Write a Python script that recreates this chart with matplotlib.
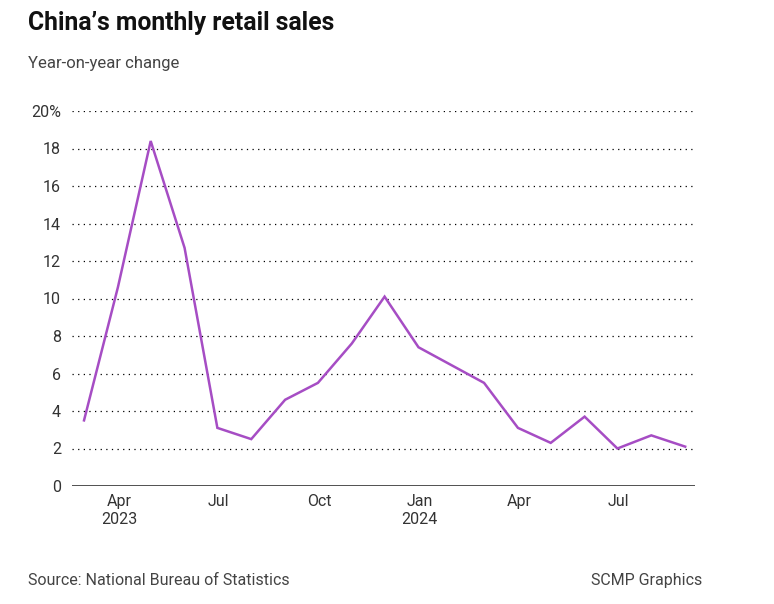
import matplotlib
matplotlib.use("Agg")
import matplotlib.pyplot as plt
import pandas as pd

plt.rcParams['font.family'] = ['Roboto', 'DejaVu Sans']

dates = pd.to_datetime([
    "2023-02-28", "2023-03-31", "2023-04-30", "2023-05-31", "2023-06-30",
    "2023-07-31", "2023-08-31", "2023-09-30", "2023-10-31", "2023-11-30",
    "2023-12-31", "2024-02-29", "2024-03-31", "2024-04-30", "2024-05-31",
    "2024-06-30", "2024-07-31", "2024-08-31",
])
values = [3.5, 10.6, 18.4, 12.7, 3.1, 2.5, 4.6, 5.5, 7.6, 10.1,
          7.4, 5.5, 3.1, 2.3, 3.7, 2.0, 2.7, 2.1]

tick_dates = pd.to_datetime(["2023-04-01", "2023-07-01", "2023-10-01",
                             "2024-01-01", "2024-04-01", "2024-07-01"])
tick_labels = ["Apr\n2023", "Jul", "Oct", "Jan\n2024", "Apr", "Jul"]
y_ticks = [0, 2, 4, 6, 8, 10, 12, 14, 16, 18, 20]
y_labels = ["0", "2", "4", "6", "8", "10", "12", "14", "16", "18", "20%"]

fig = plt.figure(figsize=(7.74, 6.04), dpi=100)
ax = fig.add_axes([72/774, (604-486)/604, (695-72)/774, 375/604])

ax.plot(dates, values, color="#A64DC4", linewidth=1.8, solid_joinstyle="miter", zorder=3)

ax.set_xlim(pd.Timestamp("2023-02-17"), pd.Timestamp("2024-09-09"))
ax.set_ylim(0, 20)
ax.set_yticks(y_ticks)
ax.set_yticklabels(y_labels)
ax.set_xticks(tick_dates)
ax.set_xticklabels(tick_labels)

for y in y_ticks[1:]:
    ax.axhline(y, color="black", linewidth=0.9, linestyle=(0, (1, 3.5)), zorder=1)
ax.axhline(0, color="#333333", linewidth=1.2, zorder=2)

for s in ax.spines.values():
    s.set_visible(False)
ax.tick_params(axis="both", length=0, labelsize=11.5, colors="#333333")
ax.tick_params(axis="y", pad=8)
ax.tick_params(axis="x", pad=6)
for lbl in ax.get_xticklabels():
    lbl.set_linespacing(1.25)

fig.text(28/774, 1 - 30/604, "China\u2019s monthly retail sales", fontsize=17.8,
         fontweight="bold", color="#111111", ha="left", va="baseline")
fig.text(28/774, 1 - 68/604, "Year-on-year change", fontsize=12,
         color="#444444", ha="left", va="baseline")
fig.text(28/774, 1 - 585/604, "Source: National Bureau of Statistics", fontsize=11.5,
         color="#444444", ha="left", va="baseline")
fig.text(702/774, 1 - 585/604, "SCMP Graphics", fontsize=11.5,
         color="#444444", ha="right", va="baseline")

fig.savefig("out.png", dpi=100, facecolor="white")
